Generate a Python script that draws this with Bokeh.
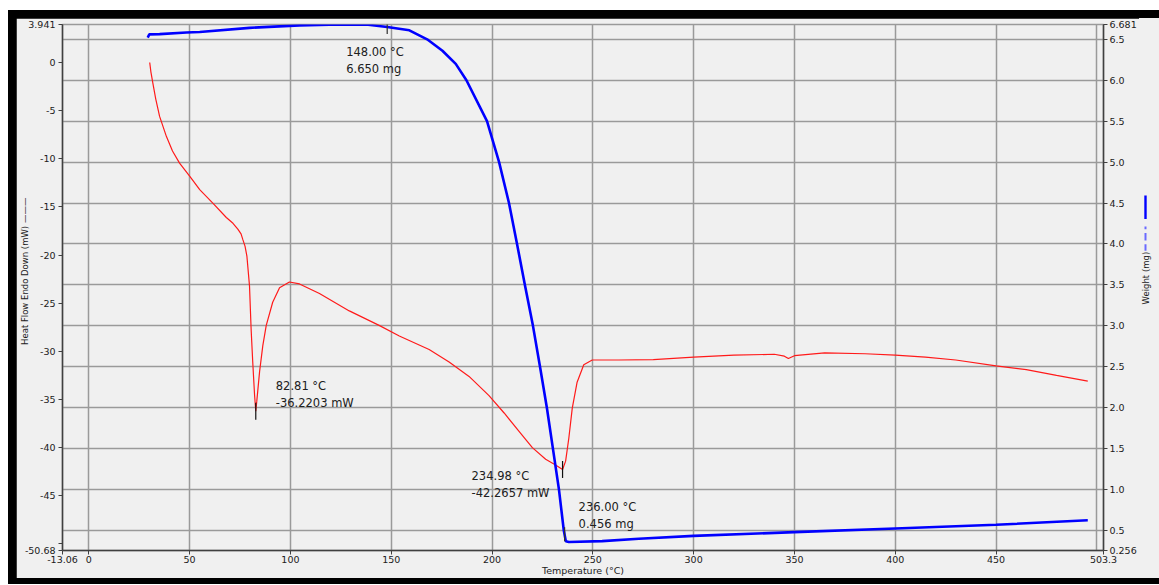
import math
from bokeh.plotting import figure
from bokeh.models import Range1d, LinearAxis, FixedTicker, Grid, Label
from bokeh.layouts import column, row
from bokeh.embed import file_html
from bokeh.resources import INLINE

# ---------------- data ----------------
# Heat flow (red, left axis, mW) vs temperature (°C)
hf_temp = [30.2, 30.8, 31.8, 33.2, 35.1, 38.5, 41.5, 45.0, 50.0, 55.0, 61.5, 68.2, 71.5,
           73.9, 75.5, 76.4, 77.5, 78.4, 79.7, 80.5, 81.3, 82.2, 82.81, 83.3, 84.7, 86.3,
           88.0, 91.2, 94.6, 99.5, 104.5, 114.4, 129.2, 144.0, 154.0, 168.8, 178.7, 188.6,
           198.5, 206.0, 213.4, 220.0, 226.6, 231.5, 234.98, 236.5, 238.1, 239.8, 242.2,
           245.5, 249.7, 262.9, 280.0, 300.0, 320.0, 340.0, 345.0, 347.0, 350.0, 365.0,
           385.0, 400.0, 415.0, 430.0, 450.0, 465.0, 480.0, 495.5]
hf_mw = [0.0, -1.0, -2.2, -3.8, -5.6, -7.7, -9.2, -10.45, -11.8, -13.2, -14.6, -16.1, -16.7,
         -17.3, -17.8, -18.4, -19.1, -20.1, -23.2, -27.7, -31.1, -34.5, -36.2203, -35.2, -32.1, -29.4,
         -27.3, -24.9, -23.4, -22.8, -23.0, -24.0, -25.8, -27.3, -28.4, -29.8, -31.1, -32.6,
         -34.6, -36.4, -38.3, -40.0, -41.2, -41.8, -42.2657, -41.4, -39.0, -35.9, -33.2,
         -31.4, -30.9, -30.9, -30.85, -30.6, -30.4, -30.3, -30.5, -30.75, -30.45, -30.15,
         -30.25, -30.4, -30.6, -30.9, -31.5, -31.9, -32.5, -33.1]

# Weight (blue, right axis, mg) vs temperature (°C)
w_temp = [29.2, 30.0, 35.1, 48.4, 55.0, 79.7, 104.5, 119.3, 137.5, 148.0, 159.0, 167.8,
          175.4, 182.0, 187.3, 197.5, 203.5, 208.4, 212.4, 216.3, 220.3, 223.8, 227.2,
          230.2, 233.2, 235.6, 236.6, 238.1, 254.6, 272.8, 300.0, 350.0, 400.0, 450.0, 495.5]
w_mg = [6.52, 6.56, 6.563, 6.583, 6.59, 6.64, 6.67, 6.68, 6.68, 6.65, 6.61, 6.5,
        6.36, 6.2, 6.0, 5.5, 5.0, 4.5, 4.0, 3.5, 3.0, 2.5, 2.0,
        1.5, 1.0, 0.5, 0.37, 0.36, 0.37, 0.40, 0.435, 0.48, 0.525, 0.57, 0.625]

# axis limits and tick labels
x_lo, x_hi = -13.06, 503.3
hf_lo, hf_hi = -50.68, 3.941
w_lo, w_hi = 0.256, 6.681

x_ticks = [-13.06, 0, 50, 100, 150, 200, 250, 300, 350, 400, 450, 503.3]
x_labels = ["-13.06", "0", "50", "100", "150", "200", "250", "300", "350", "400", "450", "503.3"]
x_grid = [0, 50, 100, 150, 200, 250, 300, 350, 400, 450, 500]

hf_ticks = [-50.68, -50, -45, -40, -35, -30, -25, -20, -15, -10, -5, 0, 3.941]
hf_labels = ["-50.68", "", "-45", "-40", "-35", "-30", "-25", "-20", "-15", "-10", "-5", "0", "3.941"]

w_ticks = [0.256, 0.5, 1.0, 1.5, 2.0, 2.5, 3.0, 3.5, 4.0, 4.5, 5.0, 5.5, 6.0, 6.5, 6.681]
w_labels = ["0.256", "0.5", "1.0", "1.5", "2.0", "2.5", "3.0", "3.5", "4.0", "4.5", "5.0", "5.5", "6.0", "6.5", "6.681"]
w_grid = [0.5, 1.0, 1.5, 2.0, 2.5, 3.0, 3.5, 4.0, 4.5, 5.0, 5.5, 6.0, 6.5]

x_title = "Temperature (°C)"
hf_title = "Heat Flow Endo Down (mW)"
w_title = "Weight (mg)"

# analysis annotations
hf_ann_t = [82.81, 234.98]
hf_ann_v = [-36.2203, -42.2657]
hf_ann_txt = ["82.81 °C\n-36.2203 mW", "234.98 °C\n-42.2657 mW"]
w_ann_t = [148.00, 236.00]
w_ann_v = [6.650, 0.456]
w_ann_txt = ["148.00 °C\n6.650 mg", "236.00 °C\n0.456 mg"]

# ---------------- layout constants ----------------
BG = "#f0f0f0"
FONT = "DejaVu Sans"
NB = "\u00a0"
WHITE_L, WHITE_T = 8, 10   # white screenshot margin
BAR = 8                    # black window frame thickness
BAR_B = 6                  # bottom black frame (cut by the window edge)
STRIP = 20                 # right-hand title strip
CH = 560                   # chart canvas height
CW = 1159 - WHITE_L - BAR - STRIP
MT, MB, ML, MR = 6, 25, 46, 32

p = figure(width=CW, height=CH, x_range=Range1d(x_lo, x_hi), y_range=Range1d(hf_lo, hf_hi),
           output_backend="svg", toolbar_location=None,
           x_axis_location=None, y_axis_location=None,
           min_border_left=ML, min_border_right=MR, min_border_top=MT, min_border_bottom=MB,
           background_fill_color=BG, border_fill_color=BG)
p.outline_line_color = "#9a9a9a"
p.outline_line_width = 1.5
p.extra_y_ranges = {"w": Range1d(w_lo, w_hi)}
p.grid.visible = False

GRID_COLOR = "#9a9a9a"
p.add_layout(Grid(dimension=0, ticker=FixedTicker(ticks=x_grid), grid_line_color=GRID_COLOR,
                  grid_line_width=1.5))
p.add_layout(Grid(dimension=1, ticker=FixedTicker(ticks=w_grid), y_range_name="w",
                  grid_line_color=GRID_COLOR, grid_line_width=1.5))


def style_axis(ax):
    ax.axis_line_color = "#404040"
    ax.axis_line_width = 1.5
    ax.major_tick_line_color = "#404040"
    ax.major_tick_out = 4
    ax.major_tick_in = 0
    ax.minor_tick_line_color = None
    ax.major_label_text_font = FONT
    ax.major_label_text_font_size = "9.5px"
    ax.major_label_text_color = "#202020"
    ax.major_label_standoff = 3
    ax.axis_label_text_font = FONT
    ax.axis_label_text_font_size = "8.5px"
    ax.axis_label_text_font_style = "normal"
    ax.axis_label_text_color = "#202020"


xax = LinearAxis(ticker=FixedTicker(ticks=x_ticks),
                 major_label_overrides={float(t): l for t, l in zip(x_ticks, x_labels)})
style_axis(xax)
xax.major_label_standoff = 1
xax.axis_label = x_title
xax.axis_label_text_font_size = "9.5px"
xax.axis_label_standoff = -1
p.add_layout(xax, "below")

lax = LinearAxis(ticker=FixedTicker(ticks=hf_ticks),
                 major_label_overrides={float(t): l for t, l in zip(hf_ticks, hf_labels)})
style_axis(lax)
# legend key (black line) follows the title, as in the instrument export
lax.axis_label = NB * 12 + hf_title + NB + "———"
lax.axis_label_standoff = -8
p.add_layout(lax, "left")

rax = LinearAxis(y_range_name="w", ticker=FixedTicker(ticks=w_ticks),
                 major_label_overrides={float(t): l for t, l in zip(w_ticks, w_labels)})
style_axis(rax)
rax.major_label_standoff = 2
p.add_layout(rax, "right")

# curves
p.line(hf_temp, hf_mw, line_color="#ff1a1a", line_width=1.2)
p.line(w_temp, w_mg, y_range_name="w", line_color="#0000ff", line_width=2.6)

# analysis markers
p.scatter(hf_ann_t, hf_ann_v, marker="dash", angle=math.pi / 2, size=17,
          line_color="#101010", line_width=1.2)
p.scatter(w_ann_t, w_ann_v, y_range_name="w", marker="dash", angle=math.pi / 2, size=14,
          line_color="#303030", line_width=1.2)

# annotation texts (offsets in screen pixels from the analysed point)
hf_off = [(20, 32), (-91, 0)]
w_off = [(-41, -18), (14, 34)]
for t, v, txt, (dx, dy) in zip(hf_ann_t, hf_ann_v, hf_ann_txt, hf_off):
    p.add_layout(Label(x=t, y=v, text=txt, x_offset=dx, y_offset=dy, text_align="left",
                       text_baseline="top", text_font=FONT, text_font_size="11.5px",
                       text_color="#202020"))
for t, v, txt, (dx, dy) in zip(w_ann_t, w_ann_v, w_ann_txt, w_off):
    p.add_layout(Label(x=t, y=v, y_range_name="w", text=txt, x_offset=dx, y_offset=dy,
                       text_align="left", text_baseline="top", text_font=FONT,
                       text_font_size="11.5px", text_color="#202020"))


# ---------------- right title strip (bottom-to-top text + blue legend key) ----------------
def blank(width, height, color, xr=(0, 1), yr=(0, 1)):
    f = figure(width=width, height=height, x_range=Range1d(*xr), y_range=Range1d(*yr),
               output_backend="svg", toolbar_location=None,
               x_axis_location=None, y_axis_location=None, min_border=0,
               background_fill_color=color, border_fill_color=color,
               styles={"background-color": color})
    f.outline_line_color = None
    f.grid.visible = False
    return f


# strip coordinates are canvas pixels (x from strip left, y from strip bottom)
strip = blank(STRIP, CH, BG, xr=(0, STRIP), yr=(0, CH))
KX = 6
strip.add_layout(Label(x=KX, y=290, text=w_title, angle=math.pi / 2,
                       text_align="center", text_baseline="middle", text_font=FONT,
                       text_font_size="8.5px", text_color="#202020"))
# legend key: solid line above a dash-dash-dot pattern
strip.segment(x0=[KX], y0=[353], x1=[KX], y1=[378], line_color="#0000ff", line_width=2.4)
strip.segment(x0=[KX, KX, KX], y0=[319, 330, 342], x1=[KX, KX, KX], y1=[326, 338, 345],
              line_color="#6a6aff", line_width=2)

# ---------------- screenshot margin and black window frame ----------------
top_white = blank(1159, WHITE_T, "white")
left_white = blank(WHITE_L, BAR + CH + BAR_B, "white")
top_bar = blank(BAR + CW + STRIP, BAR, "black")
left_bar = blank(BAR, CH, "black")
bottom_bar = blank(BAR + CW + STRIP, BAR_B, "black")

window = column(top_bar, row(left_bar, p, strip, spacing=0), bottom_bar, spacing=0,
                styles={"background-color": "black"})
page = column(top_white, row(left_white, window, spacing=0), spacing=0)

open("out.html", "w").write(file_html(page, INLINE))
